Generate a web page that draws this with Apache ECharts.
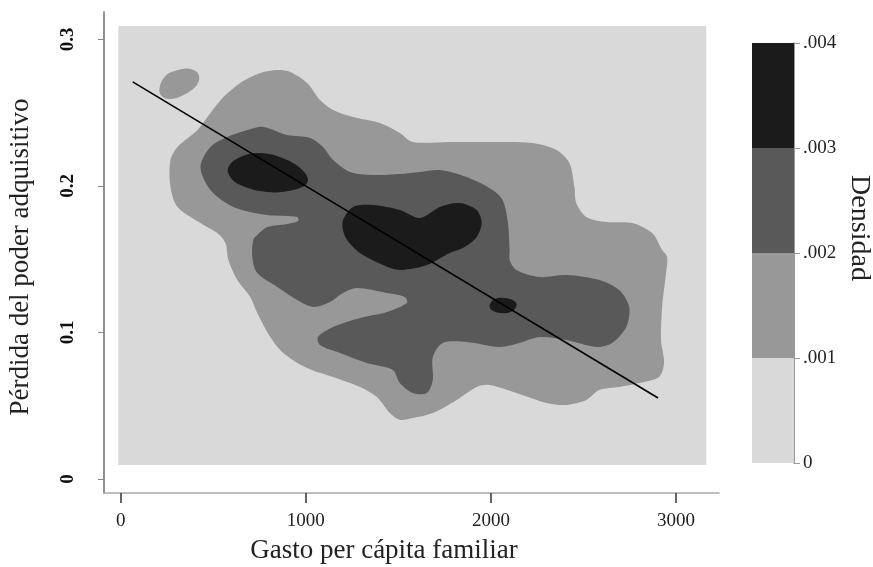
<!DOCTYPE html>
<html>
<head>
<meta charset="utf-8">
<script src="https://cdn.jsdelivr.net/npm/echarts@6/dist/echarts.min.js"></script>
<style>
  html, body { margin: 0; padding: 0; background: #fff; }
  #chart { width: 873px; height: 567px; }
</style>
</head>
<body>
<div id="chart"></div>
<script>
// ejes
var xTicks = [0, 1000, 2000, 3000]
var yTicks = [0, 0.1, 0.2, 0.3]

// niveles de densidad (barra de colores) y sus grises
var densityBreaks = [0, 0.001, 0.002, 0.003, 0.004]
var levelColors = ['#d9d9d9', '#989898', '#595959', '#1b1b1b']

// zona del grafico de contorno [xmin, xmax, ymin, ymax]
var plotRegion = [-13, 3163, 0.0096, 0.3091]

// contornos [gasto, perdida]
var level1Main = [
  [269, 0.2176], [307, 0.2265], [415, 0.2381], [485, 0.2497], [555, 0.2606], [646, 0.2702],
  [754, 0.2770], [846, 0.2790], [916, 0.2777], [1007, 0.2702], [1077, 0.2586], [1147, 0.2518],
  [1255, 0.2470], [1400, 0.2429], [1508, 0.2361], [1578, 0.2299], [1777, 0.2299], [2047, 0.2299],
  [2224, 0.2292], [2354, 0.2245], [2424, 0.2156], [2451, 0.1992], [2461, 0.1883], [2515, 0.1788],
  [2623, 0.1753], [2763, 0.1747], [2871, 0.1678], [2925, 0.1562], [2952, 0.1515], [2946, 0.1405],
  [2925, 0.1174], [2919, 0.0948], [2935, 0.0791], [2908, 0.0696], [2801, 0.0655], [2693, 0.0628],
  [2585, 0.0607], [2515, 0.0539], [2408, 0.0505], [2300, 0.0519], [2138, 0.0587], [1993, 0.0641],
  [1923, 0.0628], [1815, 0.0539], [1686, 0.0450], [1578, 0.0416], [1508, 0.0403], [1454, 0.0450],
  [1384, 0.0559], [1293, 0.0628], [1147, 0.0696], [1007, 0.0757], [878, 0.0860], [808, 0.0969],
  [738, 0.1133], [700, 0.1242], [630, 0.1358], [582, 0.1494], [566, 0.1610], [522, 0.1678],
  [431, 0.1747], [307, 0.1856], [269, 0.1992]
]
var level1Small = [
  [210, 0.2668], [242, 0.2750], [312, 0.2790], [377, 0.2797], [420, 0.2763],
  [415, 0.2695], [350, 0.2627], [269, 0.2593], [221, 0.2613]
]
var level2Main = [
  [431, 0.2129], [485, 0.2265], [576, 0.2333], [684, 0.2381], [770, 0.2402], [899, 0.2347],
  [1023, 0.2327], [1093, 0.2265], [1147, 0.2176], [1239, 0.2095], [1363, 0.2074], [1508, 0.2081],
  [1616, 0.2095], [1724, 0.2108], [1869, 0.2060], [2009, 0.1972], [2063, 0.1904], [2090, 0.1767],
  [2101, 0.1562], [2101, 0.1494], [2138, 0.1426], [2262, 0.1378], [2408, 0.1392], [2585, 0.1358],
  [2693, 0.1289], [2747, 0.1174], [2731, 0.1037], [2655, 0.0928], [2569, 0.0901], [2408, 0.0948],
  [2262, 0.0969], [2154, 0.0928], [2047, 0.0901], [1869, 0.0935], [1740, 0.0928], [1686, 0.0832],
  [1686, 0.0675], [1654, 0.0587], [1578, 0.0587], [1508, 0.0655], [1470, 0.0744], [1330, 0.0791],
  [1185, 0.0860], [1077, 0.0914], [1066, 0.0969], [1147, 0.1037], [1293, 0.1098], [1438, 0.1139],
  [1546, 0.1201], [1535, 0.1242], [1438, 0.1269], [1276, 0.1303], [1201, 0.1269], [1131, 0.1208],
  [1040, 0.1174], [953, 0.1221], [846, 0.1310], [738, 0.1405], [711, 0.1515], [716, 0.1631],
  [738, 0.1665], [792, 0.1719], [899, 0.1740], [959, 0.1760], [953, 0.1788], [792, 0.1801],
  [609, 0.1856], [485, 0.1972]
]
var level3Left = [
  [582, 0.2129], [646, 0.2197], [754, 0.2224], [899, 0.2176], [996, 0.2088],
  [1007, 0.2020], [932, 0.1972], [792, 0.1958], [646, 0.2006], [592, 0.2060]
]
var level3Middle = [
  [1201, 0.1767], [1255, 0.1856], [1363, 0.1869], [1508, 0.1835], [1616, 0.1781], [1724, 0.1856],
  [1831, 0.1883], [1923, 0.1835], [1950, 0.1747], [1923, 0.1651], [1858, 0.1583], [1777, 0.1542],
  [1654, 0.1460], [1508, 0.1426], [1417, 0.1460], [1293, 0.1542], [1223, 0.1631], [1201, 0.1699]
]
var level3Small = [
  [1993, 0.1187], [2020, 0.1228], [2074, 0.1235], [2127, 0.1214],
  [2138, 0.1180], [2106, 0.1139], [2047, 0.1133], [2004, 0.1153]
]

// recta de ajuste
var fitLine = [[65, 0.2709], [2903, 0.0553]]

var serif = '"Liberation Serif", "DejaVu Serif", serif'

function areaSeries (points, color, smooth) {
  return {
    type: 'custom',
    xAxisIndex: 0,
    yAxisIndex: 0,
    silent: true,
    data: [0],
    renderItem: function (params, api) {
      return {
        type: 'polygon',
        shape: {
          points: points.map(function (p) { return api.coord(p) }),
          smooth: smooth
        },
        style: { fill: color }
      }
    }
  }
}

function regionSeries (r, color) {
  return {
    type: 'custom',
    xAxisIndex: 0,
    yAxisIndex: 0,
    silent: true,
    data: [0],
    renderItem: function (params, api) {
      var a = api.coord([r[0], r[3]])
      var b = api.coord([r[1], r[2]])
      return {
        type: 'rect',
        shape: { x: a[0], y: a[1], width: b[0] - a[0], height: b[1] - a[1] },
        style: { fill: color }
      }
    }
  }
}

var colorbarSeries = levelColors.map(function (c, i) {
  return {
    type: 'bar',
    xAxisIndex: 1,
    yAxisIndex: 1,
    stack: 'cb',
    barWidth: '100%',
    silent: true,
    itemStyle: { color: c },
    data: [densityBreaks[i + 1] - densityBreaks[i]]
  }
})

var myChart = echarts.init(document.getElementById('chart'), null, { renderer: 'canvas' })

var option = {
  animation: false,
  backgroundColor: '#fff',
  grid: [
    { left: 104, right: 154, top: 12, bottom: 74 },
    { left: 752, width: 42, top: 43, height: 420 }
  ],
  xAxis: [
    {
      type: 'value',
      gridIndex: 0,
      min: -90,
      max: 3232,
      splitLine: { show: false },
      axisLine: { onZero: false, lineStyle: { color: '#a8a8a8', width: 1.5 } },
      axisTick: { customValues: xTicks, length: 10, lineStyle: { color: '#333', width: 1.5 } },
      axisLabel: {
        customValues: xTicks,
        margin: 19,
        color: '#222',
        fontFamily: serif,
        fontSize: 19,
        formatter: function (v) { return String(v) }
      }
    },
    {
      type: 'category',
      gridIndex: 1,
      data: ['d'],
      show: false
    }
  ],
  yAxis: [
    {
      type: 'value',
      gridIndex: 0,
      min: -0.00955,
      max: 0.3186,
      splitLine: { show: false },
      axisLine: { show: true, onZero: false, lineStyle: { color: '#6b6b6b', width: 1.5 } },
      axisTick: { show: true, customValues: yTicks, length: 6, lineStyle: { color: '#888' } },
      axisLabel: {
        customValues: yTicks,
        rotate: 90,
        margin: 26,
        color: '#111',
        fontFamily: serif,
        fontWeight: 'bold',
        fontSize: 19,
        formatter: function (v) { return v === 0 ? '0' : v.toFixed(1) }
      }
    },
    {
      type: 'value',
      gridIndex: 1,
      position: 'right',
      min: densityBreaks[0],
      max: densityBreaks[densityBreaks.length - 1],
      interval: 0.001,
      splitLine: { show: false },
      axisLine: { show: true, lineStyle: { color: '#777', width: 1.5 } },
      axisTick: { show: true, length: 6, lineStyle: { color: '#999' } },
      axisLabel: {
        margin: 9,
        color: '#222',
        fontFamily: serif,
        fontSize: 19,
        formatter: function (v) { return v === 0 ? '0' : v.toFixed(3).replace(/^0/, '') }
      }
    }
  ],
  graphic: [
    {
      type: 'text',
      x: 384,
      y: 551,
      style: {
        text: 'Gasto per cápita familiar',
        font: '27px ' + serif,
        fill: '#222',
        textAlign: 'center',
        textVerticalAlign: 'middle'
      }
    },
    {
      type: 'text',
      x: 21,
      y: 257,
      rotation: Math.PI / 2,
      style: {
        text: 'Pérdida del poder adquisitivo',
        font: '27px ' + serif,
        fill: '#222',
        textAlign: 'center',
        textVerticalAlign: 'middle'
      }
    },
    {
      type: 'text',
      x: 859,
      y: 228,
      rotation: -Math.PI / 2,
      style: {
        text: 'Densidad',
        font: '28px ' + serif,
        fill: '#222',
        textAlign: 'center',
        textVerticalAlign: 'middle'
      }
    }
  ],
  series: [
    regionSeries(plotRegion, levelColors[0]),
    areaSeries(level1Main, levelColors[1], 0.3),
    areaSeries(level1Small, levelColors[1], 0.4),
    areaSeries(level2Main, levelColors[2], 0.3),
    areaSeries(level3Left, levelColors[3], 0.4),
    areaSeries(level3Middle, levelColors[3], 0.3),
    areaSeries(level3Small, levelColors[3], 0.4),
    {
      type: 'line',
      xAxisIndex: 0,
      yAxisIndex: 0,
      silent: true,
      symbol: 'none',
      lineStyle: { color: '#000', width: 1.6 },
      data: fitLine
    }
  ].concat(colorbarSeries)
}

myChart.setOption(option)
window.onresize = myChart.resize
</script>
</body>
</html>
